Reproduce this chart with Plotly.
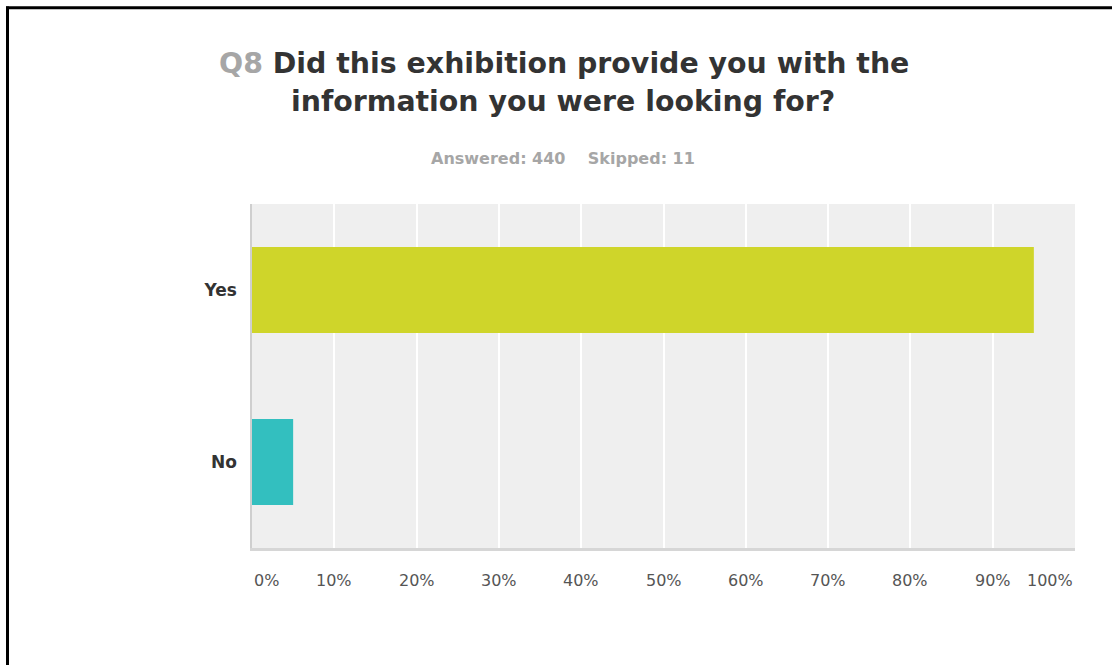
import plotly.graph_objects as go

# Survey results for Q8
categories = ["Yes", "No"]
percentages = [95.0, 5.0]
bar_colors = ["#cfd52a", "#33bfbf"]
tick_values = [0, 10, 20, 30, 40, 50, 60, 70, 80, 90, 100]
tick_labels = ["0%", "10%", "20%", "30%", "40%", "50%", "60%", "70%", "80%", "90%", "100%"]
question_number = "Q8"
question_lines = ["Did this exhibition provide you with the", "information you were looking for?"]
answered = 440
skipped = 11

W, H = 1112, 665
PLOT_L, PLOT_R, PLOT_T, PLOT_B = 252, 1075, 204, 548


def px_x(x):
    return (x - PLOT_L) / (PLOT_R - PLOT_L)


def px_y(y):
    return (PLOT_B - y) / (PLOT_B - PLOT_T)


fig = go.Figure(
    go.Bar(
        x=percentages,
        y=categories,
        orientation="h",
        marker=dict(color=bar_colors, line=dict(width=0)),
        hoverinfo="x+y",
    )
)

annotations = []
# Percentage labels under the axis; the outer two stay inside the plot width
for v, t in zip(tick_values, tick_labels):
    anchor = "left" if v == tick_values[0] else ("right" if v == tick_values[-1] else "center")
    annotations.append(dict(
        x=v, xref="x", y=px_y(580), yref="paper",
        text=t, showarrow=False, xanchor=anchor, yanchor="middle",
        font=dict(family="DejaVu Sans", size=16, color="#555555"),
    ))

# Question heading, one annotation per line
title_font = dict(family="DejaVu Sans", size=28.4, color="#333333", weight="bold")
annotations.append(dict(
    x=px_x(564), xref="paper", y=px_y(64), yref="paper",
    text=f"<span style='color:#a6a6a6'>{question_number}</span> {question_lines[0]}",
    showarrow=False, xanchor="center", yanchor="middle", font=title_font,
))
annotations.append(dict(
    x=px_x(563), xref="paper", y=px_y(102), yref="paper",
    text=question_lines[1],
    showarrow=False, xanchor="center", yanchor="middle", font=title_font,
))
# Response counts
annotations.append(dict(
    x=px_x(563), xref="paper", y=px_y(158), yref="paper",
    text=f"Answered: {answered}&nbsp;&nbsp;&nbsp;&nbsp;Skipped: {skipped}",
    showarrow=False, xanchor="center", yanchor="middle",
    font=dict(family="DejaVu Sans", size=16, color="#a6a6a6", weight="bold"),
))

# Frame around the chart (left and top edges)
shapes = [
    dict(type="line", xref="paper", yref="paper",
         x0=px_x(7.5), x1=px_x(7.5), y0=px_y(6.5), y1=px_y(700),
         line=dict(color="black", width=3)),
    dict(type="line", xref="paper", yref="paper",
         x0=px_x(6), x1=px_x(1130), y0=px_y(7.8), y1=px_y(7.8),
         line=dict(color="black", width=3)),
]

fig.update_layout(
    width=W, height=H,
    margin=dict(l=PLOT_L, r=W - PLOT_R, t=PLOT_T, b=H - PLOT_B, pad=0),
    paper_bgcolor="white",
    plot_bgcolor="#efefef",
    bargap=0.5,
    showlegend=False,
    annotations=annotations,
    shapes=shapes,
    xaxis=dict(
        range=[0, 100], tickvals=tick_values, showticklabels=False,
        showgrid=True, gridcolor="white", gridwidth=1.5, zeroline=False,
        showline=True, linecolor="#d6d6d6", linewidth=2.5, fixedrange=True,
    ),
    yaxis=dict(
        categoryorder="array", categoryarray=categories[::-1],
        range=[-0.5, 1.5], showgrid=False, zeroline=False,
        showline=True, linecolor="#cfcfcf", linewidth=1.5,
        ticks="outside", ticklen=10, tickcolor="rgba(0,0,0,0)",
        tickfont=dict(family="DejaVu Sans", size=17, color="#333333", weight="bold"),
        fixedrange=True,
    ),
)

fig.write_html("out.html")
